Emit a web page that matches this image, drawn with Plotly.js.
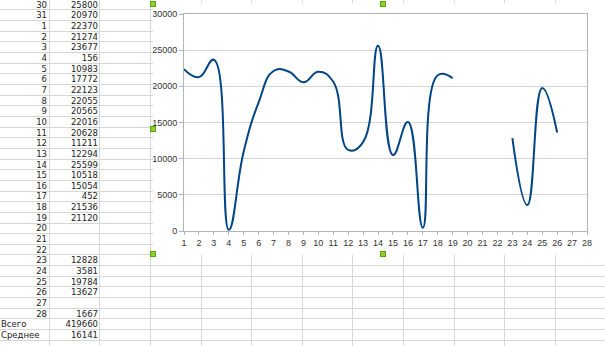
<!DOCTYPE html>
<html>
<head>
<meta charset="utf-8">
<script src="https://cdn.plot.ly/plotly-3.0.1.min.js"></script>
<style>
  html, body { margin:0; padding:0; background:#fff; width:605px; height:346px; overflow:hidden; }
  #sheet { position:absolute; left:0; top:0; width:605px; height:346px; }
  .hl { position:absolute; left:0; width:605px; height:1px; background:#d6d6d6; }
  .vl { position:absolute; top:0; width:1px; height:346px; background:#d6d6d6; }
  .cell { position:absolute; height:10px; line-height:10px; font-family:"DejaVu Sans", sans-serif; font-size:8.5px; color:#222; white-space:nowrap; }
  #chart { position:absolute; left:153px; top:3px; width:458px; height:252px; background:#fff; }
  .hdl { position:absolute; width:4px; height:4px; background:#8fd12d; border:1px solid #5aa313; }
</style>
</head>
<body>
<div id="sheet"></div>
<div id="chart"></div>
<script>
// ---- data ----
const rowLabels = ["30","31","1","2","3","4","5","6","7","8","9","10","11","12","13","14","15","16","17","18","19","20","21","22","23","24","25","26","27","28","Всего","Среднее"];
const rowValues = [25800,20970,22370,21274,23677,156,10983,17772,22123,22055,20565,22016,20628,11211,12294,25599,10518,15054,452,21536,21120,null,null,null,12828,3581,19784,13627,null,1667,419660,16141];
const days = [1,2,3,4,5,6,7,8,9,10,11,12,13,14,15,16,17,18,19,20,21,22,23,24,25,26,27,28];
const dayValues = [22370,21274,23677,156,10983,17772,22123,22055,20565,22016,20628,11211,12294,25599,10518,15054,452,21536,21120,null,null,null,12828,3581,19784,13627,null,1667];
const yTicks = [0,5000,10000,15000,20000,25000,30000];

// ---- spreadsheet background ----
const sheet = document.getElementById('sheet');
const pitch = 10.66, firstLine = 9.3;
for (let k = -1; k <= 32; k++) {
  const d = document.createElement('div');
  d.className = 'hl';
  d.style.top = Math.round(firstLine + k * pitch) + 'px';
  sheet.appendChild(d);
}
[49, 99, 150, 201, 251, 302, 352, 403, 454, 504, 555].forEach(x => {
  const d = document.createElement('div');
  d.className = 'vl';
  d.style.left = x + 'px';
  sheet.appendChild(d);
});
rowLabels.forEach((lab, i) => {
  const bottom = firstLine + i * pitch;
  const top = (bottom - 9.7) + 'px';
  const a = document.createElement('div');
  a.className = 'cell';
  a.style.top = top;
  a.textContent = lab;
  if (isNaN(Number(lab))) { a.style.left = '1px'; }
  else { a.style.right = (605 - 47) + 'px'; }
  sheet.appendChild(a);
  const v = rowValues[i];
  if (v !== null) {
    const b = document.createElement('div');
    b.className = 'cell';
    b.style.top = top;
    b.style.right = (605 - 98) + 'px';
    b.textContent = String(v);
    sheet.appendChild(b);
  }
});

// ---- chart ----
const axisFont = {family: '"Liberation Sans", sans-serif', size: 9, color: '#333'};
Plotly.newPlot('chart', [{
  x: days,
  y: dayValues,
  type: 'scatter',
  mode: 'lines',
  connectgaps: false,
  line: {color: '#004586', width: 2, shape: 'spline', smoothing: 1.3},
  hoverinfo: 'skip'
}], {
  width: 458, height: 252,
  margin: {l: 31, r: 24, t: 11, b: 24, pad: 0},
  paper_bgcolor: 'rgba(0,0,0,0)',
  plot_bgcolor: '#fff',
  showlegend: false,
  xaxis: {
    range: [1, 28], tickvals: days, ticktext: days.map(String),
    showgrid: false, zeroline: false,
    showline: true, linecolor: '#b3b3b3', linewidth: 1, mirror: true,
    ticks: 'outside', ticklen: 3, tickcolor: '#b3b3b3',
    tickfont: axisFont, fixedrange: true
  },
  yaxis: {
    range: [0, 30000], tickvals: yTicks, tickformat: 'd',
    showgrid: true, gridcolor: '#d4d4d4', gridwidth: 1, zeroline: false,
    showline: true, linecolor: '#b3b3b3', linewidth: 1, mirror: true,
    ticks: 'outside', ticklen: 4, tickcolor: '#b3b3b3',
    tickfont: axisFont, fixedrange: true
  }
}, {displayModeBar: false, staticPlot: true});

// ---- selection handles ----
[[153,4],[383,4],[153,129],[153,254],[383,254]].forEach(([x,y]) => {
  const h = document.createElement('div');
  h.className = 'hdl';
  h.style.left = (x - 3) + 'px';
  h.style.top = (y - 3) + 'px';
  document.body.appendChild(h);
});
</script>
</body>
</html>
